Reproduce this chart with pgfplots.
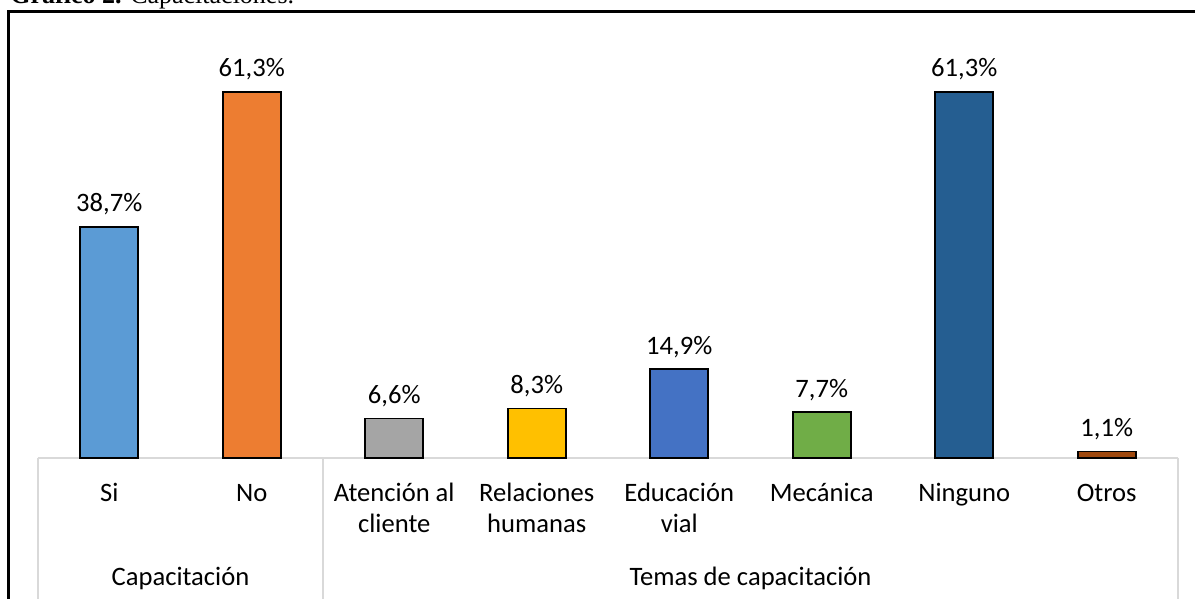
\documentclass[border=0pt]{standalone}
\usepackage{fontspec}
\setmainfont{Carlito}
\newfontfamily\timesfont{Liberation Serif}
\usepackage{pgfplots}
\pgfplotsset{compat=1.18}

\definecolor{cSi}{HTML}{5B9BD5}
\definecolor{cNo}{HTML}{ED7D31}
\definecolor{cAte}{HTML}{A5A5A5}
\definecolor{cRel}{HTML}{FFC000}
\definecolor{cEdu}{HTML}{4472C4}
\definecolor{cMec}{HTML}{70AD47}
\definecolor{cNin}{HTML}{255E91}
\definecolor{cOtr}{HTML}{9E480E}
\definecolor{sepgray}{HTML}{D9D9D9}

\newcommand{\lblfont}{\fontsize{13.3}{15.5}\selectfont}

\begin{document}
\begin{tikzpicture}[x=1pt,y=1pt]
  \useasboundingbox (0,0) rectangle (597.5,299.5);
  % frame and caption (cut by the page edge, as in the source)
  \draw[line width=1.5pt] (4.25,-20) -- (4.25,293.5) -- (620,293.5);
  \node[anchor=base west, inner sep=0pt, font=\timesfont\fontsize{13}{15}\selectfont]
    at (5,297.5) {\textbf{Gráfico 2.} Capacitaciones.};

  \begin{axis}[
      at={(19pt,70.5pt)}, anchor=south west,
      scale only axis,
      width=570pt, height=209pt,
      xmin=-0.5, xmax=7.5, ymin=0, ymax=70,
      ybar, bar width=29pt, bar shift=0pt,
      axis x line=bottom, axis y line=none,
      x axis line style={draw=sepgray, line width=0.8pt, -},
      major tick length=0pt,
      xtick={0,1,2,3,4,5,6,7},
      xticklabels={\strut Si, \strut No, {\strut Atención al\\cliente},
        {\strut Relaciones\\humanas}, {\strut Educación\\vial},
        \strut Mecánica, \strut Ninguno, \strut Otros},
      xticklabel style={anchor=north, align=center, yshift=-7.5pt, font=\lblfont},
      nodes near coords={\pgfmathprintnumber[fixed,precision=1,fixed zerofill,use comma,assume math mode=true]{\pgfplotspointmeta}\%},
      every node near coord/.append style={anchor=base, yshift=7.5pt, text=black, draw=none, font=\lblfont},
      clip=false,
    ]
    \addplot[fill=cSi, draw=black, line width=0.9pt] coordinates {(0,38.7)};
    \addplot[fill=cNo, draw=black, line width=0.9pt] coordinates {(1,61.3)};
    \addplot[fill=cAte, draw=black, line width=0.9pt] coordinates {(2,6.6)};
    \addplot[fill=cRel, draw=black, line width=0.9pt] coordinates {(3,8.3)};
    \addplot[fill=cEdu, draw=black, line width=0.9pt] coordinates {(4,14.9)};
    \addplot[fill=cMec, draw=black, line width=0.9pt] coordinates {(5,7.7)};
    \addplot[fill=cNin, draw=black, line width=0.9pt] coordinates {(6,61.3)};
    \addplot[fill=cOtr, draw=black, line width=0.9pt] coordinates {(7,1.1)};

    \draw[sepgray, line width=0.8pt] (axis cs:-0.5,0) -- (axis cs:-0.5,-30);
    \draw[sepgray, line width=0.8pt] (axis cs:1.5,0) -- (axis cs:1.5,-30);
    \draw[sepgray, line width=0.8pt] (axis cs:7.5,0) -- (axis cs:7.5,-30);
    \node[anchor=base, font=\lblfont] at (axis cs:0.5,-21.3) {Capacitación};
    \node[anchor=base, font=\lblfont] at (axis cs:4.5,-21.3) {Temas de capacitación};
  \end{axis}
\end{tikzpicture}
\end{document}
